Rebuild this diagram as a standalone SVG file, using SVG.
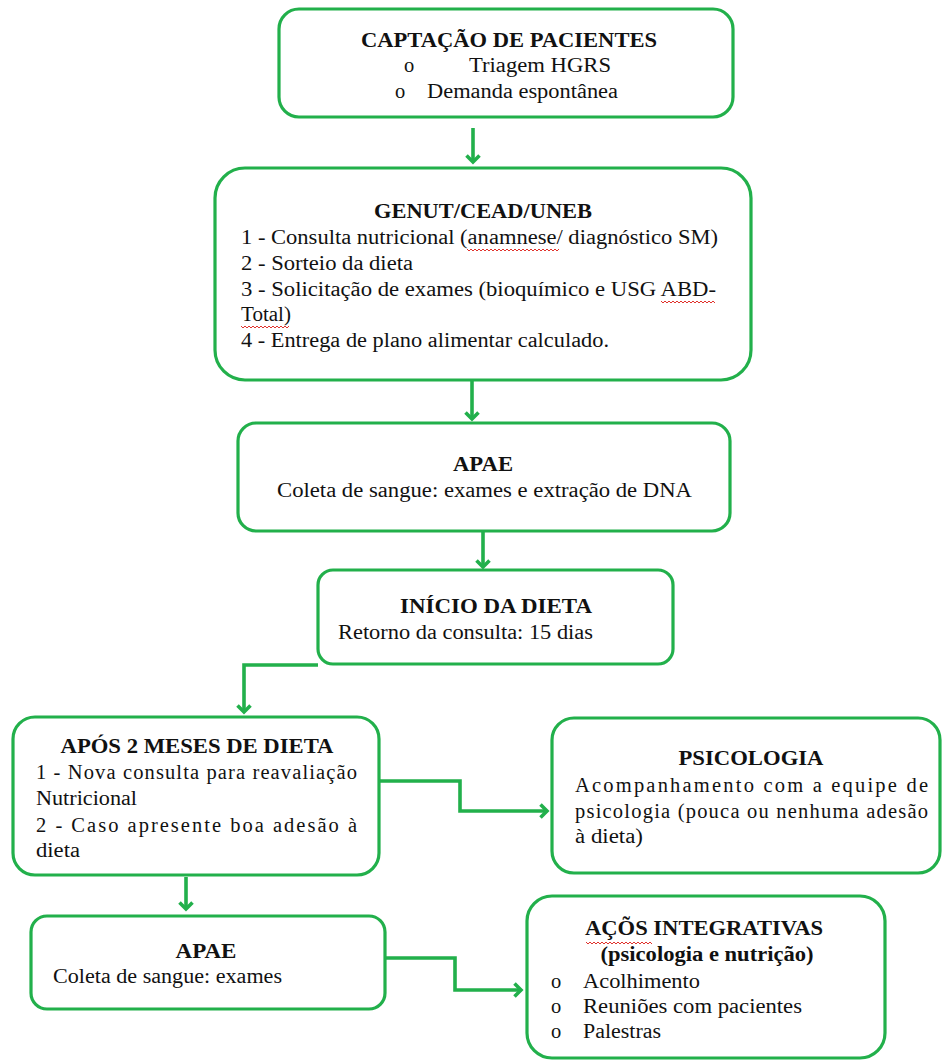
<svg xmlns="http://www.w3.org/2000/svg" width="942" height="1061" viewBox="0 0 942 1061">
<style>
.box{fill:#fff;stroke:#22b04b;stroke-width:3.2}
.con{fill:none;stroke:#22b04b;stroke-width:3.6;marker-end:url(#arr)}
.t{font-family:"Liberation Serif","Times New Roman",serif;font-size:20.5px;fill:#111}
.b{font-weight:bold;text-anchor:middle}
.sq{fill:none;stroke:#e0322c;stroke-width:1}
</style>
<defs>
<marker id="arr" markerUnits="userSpaceOnUse" markerWidth="16" markerHeight="16" refX="8" refY="8" orient="auto" viewBox="0 0 16 16">
<path d="M1.5,1.5 L8,8 L1.5,14.5" fill="none" stroke="#22b04b" stroke-width="3.6"/>
</marker>
</defs>
<rect width="942" height="1061" fill="#fff"/>
<g id="connectors">
<path class="con" d="M473,128 V162"/>
<path class="con" d="M472,381 V419"/>
<path class="con" d="M483,532 V567"/>
<path class="con" d="M318,665 H244 V712"/>
<path class="con" d="M186,877 V909"/>
<path class="con" d="M379,781 H460 V811 H547"/>
<path class="con" d="M386,958 H455 V990 H521"/>
</g>
<g id="n1">
<rect class="box" x="279" y="9" width="454" height="108" rx="20"/>
<text class="t b" x="509" y="47" textLength="296" lengthAdjust="spacingAndGlyphs">CAPTAÇÃO DE PACIENTES</text>
<text class="t" x="404" y="72">o</text>
<text class="t" x="469" y="72" textLength="142" lengthAdjust="spacingAndGlyphs">Triagem HGRS</text>
<text class="t" x="395" y="98">o</text>
<text class="t" x="427" y="98" textLength="191" lengthAdjust="spacingAndGlyphs">Demanda espontânea</text>
</g>
<g id="n2">
<rect class="box" x="215" y="168" width="536" height="212" rx="30"/>
<text class="t b" x="483" y="218" textLength="218" lengthAdjust="spacingAndGlyphs">GENUT/CEAD/UNEB</text>
<text class="t" x="241" y="244" textLength="477" lengthAdjust="spacingAndGlyphs">1 - Consulta nutricional (anamnese/ diagnóstico SM)</text>
<text class="t" x="241" y="270" textLength="172" lengthAdjust="spacingAndGlyphs">2 - Sorteio da dieta</text>
<text class="t" x="241" y="296" textLength="475" lengthAdjust="spacingAndGlyphs">3 - Solicitação de exames (bioquímico e USG ABD-</text>
<text class="t" x="241" y="321" textLength="50" lengthAdjust="spacingAndGlyphs">Total)</text>
<text class="t" x="241" y="347" textLength="368" lengthAdjust="spacingAndGlyphs">4 - Entrega de plano alimentar calculado.</text>
<path class="sq" d="M467,249 l2,2 l2,-2 l2,2 l2,-2 l2,2 l2,-2 l2,2 l2,-2 l2,2 l2,-2 l2,2 l2,-2 l2,2 l2,-2 l2,2 l2,-2 l2,2 l2,-2 l2,2 l2,-2 l2,2 l2,-2 l2,2 l2,-2 l2,2 l2,-2 l2,2 l2,-2 l2,2 l2,-2 l2,2 l2,-2 l2,2 l2,-2 l2,2 l2,-2 l2,2 l2,-2 l2,2 l2,-2 l2,2 l2,-2 l2,2 l2,-2 l2,2 l2,-2"/>
<path class="sq" d="M661,301 l2,2 l2,-2 l2,2 l2,-2 l2,2 l2,-2 l2,2 l2,-2 l2,2 l2,-2 l2,2 l2,-2 l2,2 l2,-2 l2,2 l2,-2 l2,2 l2,-2 l2,2 l2,-2 l2,2 l2,-2 l2,2 l2,-2 l2,2 l2,-2 l2,2"/>
<path class="sq" d="M241,326 l2,2 l2,-2 l2,2 l2,-2 l2,2 l2,-2 l2,2 l2,-2 l2,2 l2,-2 l2,2 l2,-2 l2,2 l2,-2 l2,2 l2,-2 l2,2 l2,-2 l2,2 l2,-2 l2,2 l2,-2 l2,2 l2,-2"/>
</g>
<g id="n3">
<rect class="box" x="238" y="423" width="492" height="108" rx="18"/>
<text class="t b" x="483" y="471" textLength="60" lengthAdjust="spacingAndGlyphs">APAE</text>
<text class="t" x="277" y="497" textLength="415" lengthAdjust="spacingAndGlyphs">Coleta de sangue: exames e extração de DNA</text>
</g>
<g id="n4">
<rect class="box" x="318" y="570" width="355" height="94" rx="15"/>
<text class="t b" x="496" y="613" textLength="192" lengthAdjust="spacingAndGlyphs">INÍCIO DA DIETA</text>
<text class="t" x="338" y="639" textLength="255" lengthAdjust="spacingAndGlyphs">Retorno da consulta: 15 dias</text>
</g>
<g id="n5">
<rect class="box" x="13" y="717" width="366" height="158" rx="22"/>
<text class="t b" x="197" y="753" textLength="273" lengthAdjust="spacingAndGlyphs">APÓS 2 MESES DE DIETA</text>
<text class="t" x="36" y="779" textLength="321" lengthAdjust="spacing">1 - Nova consulta para reavaliação</text>
<text class="t" x="36" y="805" textLength="101" lengthAdjust="spacingAndGlyphs">Nutricional</text>
<text class="t" x="36" y="832" textLength="321" lengthAdjust="spacing">2 - Caso apresente boa adesão à</text>
<text class="t" x="36" y="857" textLength="44" lengthAdjust="spacingAndGlyphs">dieta</text>
</g>
<g id="n6">
<rect class="box" x="552" y="718" width="388" height="155" rx="22"/>
<text class="t b" x="751" y="765" textLength="145" lengthAdjust="spacingAndGlyphs">PSICOLOGIA</text>
<text class="t" x="575" y="792" textLength="353" lengthAdjust="spacing">Acompanhamento com a equipe de</text>
<text class="t" x="575" y="818" textLength="353" lengthAdjust="spacing">psicologia (pouca ou nenhuma adesão</text>
<text class="t" x="575" y="843" textLength="68" lengthAdjust="spacingAndGlyphs">à dieta)</text>
</g>
<g id="n7">
<rect class="box" x="31" y="916" width="354" height="93" rx="16"/>
<text class="t b" x="206" y="958" textLength="61" lengthAdjust="spacingAndGlyphs">APAE</text>
<text class="t" x="53" y="983" textLength="229" lengthAdjust="spacingAndGlyphs">Coleta de sangue: exames</text>
</g>
<g id="n8">
<rect class="box" x="527" y="896" width="358" height="162" rx="25"/>
<text class="t b" x="704" y="935" textLength="238" lengthAdjust="spacingAndGlyphs">AÇÕS INTEGRATIVAS</text>
<text class="t b" x="707" y="961" textLength="213" lengthAdjust="spacingAndGlyphs">(psicologia e nutrição)</text>
<text class="t" x="551" y="988">o</text>
<text class="t" x="583" y="988" textLength="117" lengthAdjust="spacingAndGlyphs">Acolhimento</text>
<text class="t" x="551" y="1013">o</text>
<text class="t" x="583" y="1013" textLength="219" lengthAdjust="spacingAndGlyphs">Reuniões com pacientes</text>
<text class="t" x="551" y="1038">o</text>
<text class="t" x="583" y="1038" textLength="78" lengthAdjust="spacingAndGlyphs">Palestras</text>
<path class="sq" d="M586,942 l2,2 l2,-2 l2,2 l2,-2 l2,2 l2,-2 l2,2 l2,-2 l2,2 l2,-2 l2,2 l2,-2 l2,2 l2,-2 l2,2 l2,-2 l2,2 l2,-2 l2,2 l2,-2 l2,2 l2,-2 l2,2 l2,-2 l2,2 l2,-2 l2,2 l2,-2 l2,2 l2,-2 l2,2 l2,-2 l2,2"/>
</g>
</svg>
